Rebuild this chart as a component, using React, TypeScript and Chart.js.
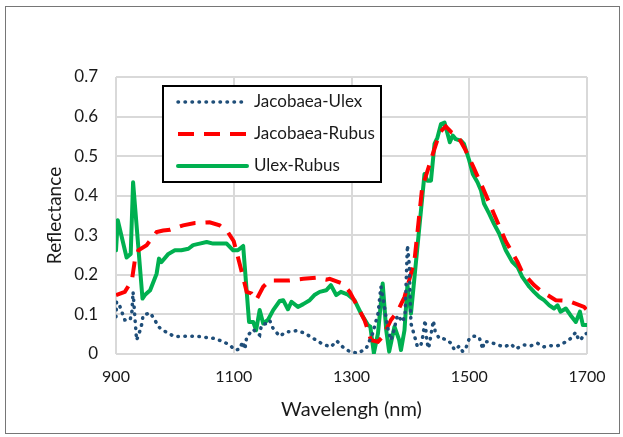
import React, { useEffect, useRef } from "react";
import { Chart, registerables } from "chart.js";

Chart.register(...registerables);

const xTicks = [900, 1100, 1300, 1500, 1700];
const yTicks = [0, 0.1, 0.2, 0.3, 0.4, 0.5, 0.6, 0.7];
const seriesNames = ["Jacobaea-Ulex", "Jacobaea-Rubus", "Ulex-Rubus"];

const juX = [900, 901, 906, 911, 915, 924, 927, 929, 932, 935, 941, 944, 946, 958, 966, 972, 980, 989, 1000, 1025, 1042, 1068, 1082, 1093, 1102, 1110, 1115, 1119, 1122, 1127, 1133, 1144, 1147, 1155, 1161, 1167, 1178, 1189, 1198, 1206, 1218, 1229, 1240, 1251, 1265, 1275, 1285, 1297, 1311, 1325, 1336, 1345, 1350, 1356, 1361, 1367, 1372, 1378, 1387, 1391, 1395, 1398, 1401, 1405, 1409, 1412, 1418, 1421, 1425, 1428, 1431, 1433, 1439, 1442, 1449, 1455, 1463, 1469, 1475, 1483, 1489, 1495, 1500, 1508, 1517, 1523, 1525, 1534, 1548, 1559, 1571, 1579, 1593, 1605, 1616, 1627, 1639, 1647, 1655, 1664, 1672, 1681, 1686, 1690, 1695, 1700];
const juY = [0.094, 0.132, 0.123, 0.102, 0.086, 0.086, 0.107, 0.157, 0.094, 0.035, 0.06, 0.077, 0.098, 0.104, 0.086, 0.069, 0.06, 0.052, 0.044, 0.045, 0.044, 0.039, 0.031, 0.023, 0.01, 0.012, 0.031, 0.012, 0.044, 0.052, 0.062, 0.048, 0.073, 0.077, 0.085, 0.064, 0.045, 0.056, 0.056, 0.059, 0.054, 0.045, 0.035, 0.025, 0.018, 0.033, 0.018, 0.006, 0.002, 0.014, 0.052, 0.102, 0.17, 0.119, 0.069, 0.035, 0.06, 0.098, 0.081, 0.1, 0.275, 0.228, 0.077, 0.056, 0.035, 0.018, 0.023, 0.044, 0.086, 0.031, 0.014, 0.031, 0.084, 0.059, 0.039, 0.039, 0.035, 0.027, 0.01, 0.02, 0.006, 0.018, 0.039, 0.045, 0.042, 0.012, 0.031, 0.031, 0.023, 0.018, 0.025, 0.013, 0.023, 0.021, 0.027, 0.018, 0.021, 0.02, 0.023, 0.031, 0.039, 0.055, 0.035, 0.037, 0.05, 0.052];

const jrX = [900, 915, 927, 932, 938, 952, 969, 980, 992, 1014, 1034, 1059, 1076, 1090, 1100, 1110, 1122, 1130, 1138, 1150, 1161, 1195, 1218, 1240, 1257, 1263, 1285, 1297, 1311, 1322, 1328, 1333, 1345, 1353, 1367, 1378, 1390, 1401, 1407, 1420, 1438, 1450, 1460, 1470, 1480, 1492, 1506, 1525, 1542, 1562, 1582, 1590, 1610, 1624, 1647, 1669, 1695, 1700];
const jrY = [0.149, 0.157, 0.186, 0.237, 0.262, 0.275, 0.308, 0.312, 0.314, 0.325, 0.331, 0.333, 0.325, 0.308, 0.285, 0.228, 0.157, 0.153, 0.136, 0.17, 0.186, 0.186, 0.19, 0.193, 0.188, 0.19, 0.178, 0.157, 0.118, 0.086, 0.06, 0.035, 0.031, 0.044, 0.086, 0.107, 0.144, 0.203, 0.237, 0.42, 0.505, 0.56, 0.575, 0.56, 0.552, 0.52, 0.476, 0.413, 0.354, 0.285, 0.233, 0.207, 0.174, 0.157, 0.136, 0.134, 0.119, 0.111];

const urX = [900, 903, 918, 925, 929, 945, 949, 958, 969, 973, 977, 989, 1000, 1011, 1023, 1031, 1042, 1054, 1065, 1079, 1088, 1099, 1107, 1116, 1126, 1133, 1138, 1144, 1150, 1158, 1167, 1178, 1184, 1192, 1198, 1209, 1218, 1229, 1237, 1246, 1257, 1265, 1274, 1282, 1294, 1305, 1316, 1328, 1332, 1338, 1345, 1353, 1359, 1364, 1373, 1381, 1384, 1390, 1395, 1401, 1424, 1429, 1435, 1441, 1446, 1452, 1458, 1467, 1472, 1477, 1486, 1491, 1500, 1506, 1514, 1520, 1525, 1534, 1542, 1551, 1562, 1573, 1582, 1590, 1602, 1610, 1619, 1627, 1636, 1644, 1650, 1655, 1664, 1672, 1681, 1688, 1693, 1700];
const urY = [0.262, 0.338, 0.244, 0.253, 0.434, 0.14, 0.149, 0.161, 0.203, 0.241, 0.232, 0.253, 0.262, 0.262, 0.266, 0.275, 0.279, 0.283, 0.279, 0.279, 0.279, 0.262, 0.262, 0.273, 0.081, 0.081, 0.06, 0.111, 0.077, 0.086, 0.111, 0.134, 0.136, 0.113, 0.132, 0.119, 0.126, 0.136, 0.149, 0.157, 0.161, 0.174, 0.149, 0.157, 0.15, 0.136, 0.103, 0.073, 0.069, 0.002, 0.052, 0.178, 0.06, 0.006, 0.069, 0.035, 0.01, 0.06, 0.174, 0.102, 0.455, 0.438, 0.438, 0.531, 0.547, 0.581, 0.585, 0.535, 0.552, 0.543, 0.539, 0.531, 0.489, 0.455, 0.434, 0.413, 0.38, 0.354, 0.329, 0.304, 0.262, 0.233, 0.22, 0.195, 0.17, 0.157, 0.144, 0.136, 0.123, 0.115, 0.123, 0.107, 0.115, 0.098, 0.081, 0.107, 0.073, 0.073];

const FONT = "Lato, 'Noto Sans', sans-serif";
const TEXT = "#1a1a1a";

const pts = (xs: number[], ys: number[]) => xs.map((x, i) => ({ x, y: ys[i] }));

const legendPlugin = {
  id: "boxLegend",
  afterDraw(chart: any) {
    const ctx = chart.ctx;
    const left = 163, top = 86, w = 218, h = 96;
    ctx.save();
    ctx.fillStyle = "#ffffff";
    ctx.fillRect(left, top, w, h);
    ctx.strokeStyle = "#000000";
    ctx.lineWidth = 2;
    ctx.strokeRect(left, top, w, h);
    const rows = [102, 134, 166];
    chart.data.datasets.forEach((ds: any, i: number) => {
      const y = rows[i];
      ctx.beginPath();
      ctx.strokeStyle = ds.borderColor;
      ctx.lineWidth = ds.borderWidth;
      ctx.lineCap = ds.borderCapStyle || "butt";
      ctx.setLineDash(ds.borderDash || []);
      ctx.moveTo(178, y);
      ctx.lineTo(247, y);
      ctx.stroke();
      ctx.setLineDash([]);
      ctx.fillStyle = TEXT;
      ctx.font = `17px ${FONT}`;
      ctx.textBaseline = "middle";
      ctx.textAlign = "left";
      ctx.fillText(ds.label, 254, y);
    });
    ctx.restore();
  },
};

export default function App() {
  const ref = useRef<HTMLCanvasElement | null>(null);
  useEffect(() => {
    if (!ref.current) return;
    const chart = new Chart(ref.current, {
      type: "line",
      data: {
        datasets: [
          {
            label: seriesNames[0],
            data: pts(juX, juY),
            borderColor: "#1F4E79",
            borderWidth: 3.5,
            borderDash: [0.5, 6.5],
            borderCapStyle: "round",
            pointRadius: 0,
            tension: 0,
            fill: false,
          },
          {
            label: seriesNames[1],
            data: pts(jrX, jrY),
            borderColor: "#FF0000",
            borderWidth: 4,
            borderDash: [16, 10],
            borderCapStyle: "butt",
            pointRadius: 0,
            tension: 0,
            fill: false,
          },
          {
            label: seriesNames[2],
            data: pts(urX, urY),
            borderColor: "#00B050",
            borderWidth: 4,
            borderCapStyle: "round",
            borderJoinStyle: "round",
            pointRadius: 0,
            tension: 0,
            fill: false,
          },
        ],
      },
      options: {
        animation: false,
        responsive: false,
        layout: { padding: { left: 0, right: 36, top: 77, bottom: 0 } },
        plugins: { legend: { display: false }, tooltip: { enabled: false } },
        scales: {
          x: {
            type: "linear",
            min: 900,
            max: 1700,
            afterBuildTicks: (s: any) => {
              s.ticks = xTicks.map((v) => ({ value: v }));
            },
            afterFit: (s: any) => {
              s.height = 437 - 354;
            },
            ticks: {
              font: { family: FONT, size: 16 },
              color: TEXT,
              padding: 13,
              maxRotation: 0,
              callback: (v: any) => String(v),
            },
            grid: { color: "#d9d9d9", lineWidth: 2, drawTicks: false },
            border: { display: false },
            title: {
              display: true,
              text: "Wavelengh (nm)",
              font: { family: FONT, size: 20 },
              color: TEXT,
              padding: { top: 0, bottom: 15 },
            },
          },
          y: {
            min: 0,
            max: 0.7,
            afterBuildTicks: (s: any) => {
              s.ticks = yTicks.map((v) => ({ value: v }));
            },
            afterFit: (s: any) => {
              s.width = 116;
            },
            ticks: {
              font: { family: FONT, size: 17 },
              color: TEXT,
              padding: 18,
              callback: (v: any) => String(Math.round(Number(v) * 10) / 10),
            },
            grid: { color: "#d9d9d9", lineWidth: 2, drawTicks: false },
            border: { display: false },
            title: {
              display: true,
              text: "Reflectance",
              font: { family: FONT, size: 19 },
              color: TEXT,
              padding: { top: 43, bottom: 0 },
            },
          },
        },
      },
      plugins: [legendPlugin],
    });
    return () => chart.destroy();
  }, []);
  return (
    <div style={{ position: "fixed", left: 0, top: 0, width: 623, height: 437, background: "#fff" }}>
      <div
        style={{
          position: "absolute",
          left: 5,
          top: 6,
          width: 615,
          height: 428,
          border: "1px solid #767676",
          boxSizing: "border-box",
        }}
      />
      <canvas ref={ref} width={623} height={437} style={{ position: "absolute", left: 0, top: 0 }} />
    </div>
  );
}
